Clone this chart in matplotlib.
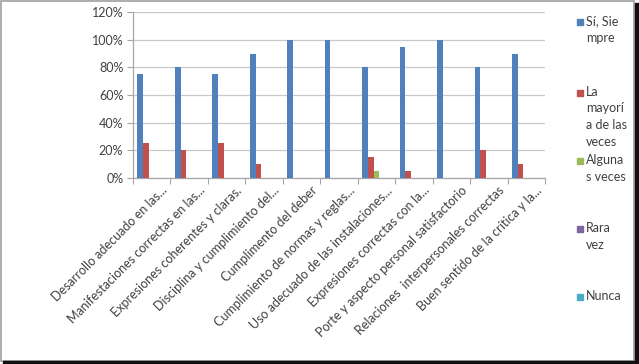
import matplotlib
matplotlib.use("Agg")
import matplotlib.pyplot as plt
import numpy as np
from matplotlib.patches import Rectangle

plt.rcParams['font.family'] = ['Lato', 'DejaVu Sans']

categories = [
    "Desarrollo adecuado en las...",
    "Manifestaciones correctas en las...",
    "Expresiones coherentes y claras.",
    "Disciplina y cumplimiento del...",
    "Cumplimento del deber",
    "Cumplimiento de normas y reglas...",
    "Uso adecuado de las instalaciones...",
    "Expresiones correctas con la...",
    "Porte y aspecto personal satisfactorio",
    "Relaciones  interpersonales correctas",
    "Buen sentido de la crítica y la...",
]
series_names = ["Sí, Siempre", "La mayoría de las veces", "Algunas veces", "Rara vez", "Nunca"]
legend_labels = ["Sí, Sie\nmpre", "La\nmayorí\na de las\nveces", "Alguna\ns veces", "Rara\nvez", "Nunca"]
siempre = [75, 80, 75, 90, 100, 100, 80, 95, 100, 80, 90]
mayoria = [25, 20, 25, 10, 0, 0, 15, 5, 0, 20, 10]
algunas = [0, 0, 0, 0, 0, 0, 5, 0, 0, 0, 0]
rara = [0] * 11
nunca = [0] * 11
values = [siempre, mayoria, algunas, rara, nunca]
colors = ["#4F81BD", "#C0504D", "#9BBB59", "#8064A2", "#4BACC6"]
yticks = [0, 20, 40, 60, 80, 100, 120]

W, H = 639, 364
fig = plt.figure(figsize=(W / 100, H / 100), dpi=100)
ax = fig.add_axes([133 / W, 1 - 178 / H, (545 - 133) / W, (178 - 12) / H])

n = len(categories)
x = np.arange(n)
bw = 0.152
for i, (vals, c) in enumerate(zip(values, colors)):
    ax.bar(x + (i - 2) * bw, vals, width=bw, color=c, edgecolor='none', zorder=3)

ax.set_xlim(-0.5, n - 0.5)
ax.set_ylim(0, 120)
ax.set_yticks(yticks)
ax.set_yticklabels([f"{v}%" for v in yticks], fontsize=9, color="#404040")
ax.yaxis.grid(True, color="#C8C8C8", linewidth=0.9, zorder=0)
ax.set_axisbelow(True)
ax.set_xticks(np.arange(-0.5, n, 1.0))
ax.set_xticklabels([])
ax.tick_params(axis='x', length=4, color="#A6A6A6", direction='out')
ax.tick_params(axis='y', length=4, color="#A6A6A6", direction='out', pad=3)
for s in ['top', 'right']:
    ax.spines[s].set_visible(False)
for s in ['left', 'bottom']:
    ax.spines[s].set_color("#A6A6A6")
    ax.spines[s].set_linewidth(0.9)

for i, lab in enumerate(categories):
    ax.text(i + 0.25, -4.5, lab, rotation=45, ha='right', va='top', rotation_mode='anchor',
            fontsize=9, color="#404040", transform=ax.transData, clip_on=False)

# legend (manual)
leg_y = [22, 93, 161, 229, 297]
for lab, c, y in zip(legend_labels, colors, leg_y):
    fig.patches.append(Rectangle((577 / W, 1 - (y + 3) / H), 6 / W, 6 / H,
                                 transform=fig.transFigure, color=c, figure=fig))
    fig.text(586 / W, 1 - (y - 7) / H, lab, ha='left', va='top', fontsize=9,
             color="#404040", linespacing=1.45)

# borders
fig.patches.append(Rectangle((0.5 / W, 1 - 360.5 / H), 633.5 / W, 360 / H, transform=fig.transFigure,
                             fill=False, edgecolor="#A0A0A0", linewidth=1.2, figure=fig))
fig.patches.append(Rectangle((635 / W, 0), 4 / W, 1 - 3 / H, transform=fig.transFigure,
                             color="#111111", figure=fig))
fig.patches.append(Rectangle((3 / W, 0), 636 / W, 3 / H, transform=fig.transFigure,
                             color="#111111", figure=fig))

fig.savefig("out.png", dpi=100)
